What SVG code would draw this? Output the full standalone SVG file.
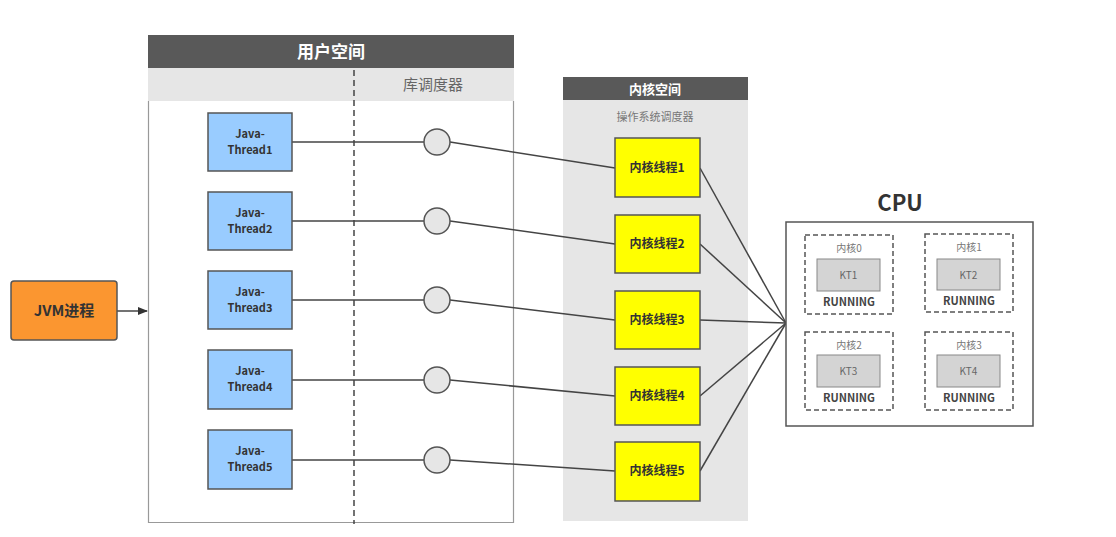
<svg xmlns="http://www.w3.org/2000/svg" width="1116" height="537" viewBox="0 0 1116 537">
<defs>
<style>
.hdr{fill:#595959}
.sub{fill:#e6e6e6}
.t{font-family:"Noto Sans CJK SC","Open Sans",sans-serif}
.jt{fill:#99ccff;stroke:#555;stroke-width:1.5}
.kt{fill:#ffff00;stroke:#555;stroke-width:1.5}
.circ{fill:#e6e6e6;stroke:#555;stroke-width:1.5}
.ln{stroke:#444;stroke-width:1.5;fill:none}
.core{fill:none;stroke:#555;stroke-width:1.5;stroke-dasharray:5,3}
.ktb{fill:#d4d4d4;stroke:#888;stroke-width:1}
.jtx{font-size:11px;font-weight:bold;fill:#333;text-anchor:middle}
.ktx{font-size:12px;font-weight:bold;fill:#333;text-anchor:middle}
.cl{font-size:10px;fill:#777;text-anchor:middle}
.kl{font-size:10px;fill:#666;text-anchor:middle}
.run{font-size:11px;font-weight:bold;fill:#444;text-anchor:middle}
</style>
<marker id="arr" markerWidth="10" markerHeight="8" refX="9" refY="4" orient="auto" markerUnits="userSpaceOnUse">
<path d="M0,0 L10,4 L0,8 z" fill="#333"/>
</marker>
</defs>
<rect width="1116" height="537" fill="#fff"/>

<g id="user-space">
<rect x="148" y="35" width="366" height="33" class="hdr"/>
<text x="331" y="58" class="t" font-size="17" font-weight="bold" fill="#fff" text-anchor="middle">用户空间</text>
<rect x="148" y="68" width="366" height="33" class="sub"/>
<text x="433" y="90" class="t" font-size="15" fill="#666" text-anchor="middle">库调度器</text>
<path d="M148.5,101 V522.5 H513.5 V101" fill="none" stroke="#999" stroke-width="1.2"/>
<line x1="354" y1="70" x2="354" y2="524" stroke="#444" stroke-width="1.5" stroke-dasharray="6,4"/>
</g>

<g id="kernel-space">
<rect x="563" y="100" width="185" height="421" class="sub"/>
<rect x="563" y="77" width="185" height="23" class="hdr"/>
<text x="655" y="94" class="t" font-size="13" font-weight="bold" fill="#fff" text-anchor="middle">内核空间</text>
<text x="655" y="121" class="t" font-size="11" fill="#777" text-anchor="middle">操作系统调度器</text>
</g>

<g id="connectors">
<line x1="117" y1="311" x2="147" y2="311" class="ln" marker-end="url(#arr)"/>
<line x1="292" y1="142" x2="424" y2="142" class="ln"/>
<line x1="292" y1="221" x2="424" y2="221" class="ln"/>
<line x1="292" y1="300" x2="424" y2="300" class="ln"/>
<line x1="292" y1="380" x2="424" y2="380" class="ln"/>
<line x1="292" y1="460" x2="424" y2="460" class="ln"/>
<line x1="450" y1="142" x2="615" y2="168" class="ln"/>
<line x1="450" y1="221" x2="615" y2="244" class="ln"/>
<line x1="450" y1="300" x2="615" y2="320" class="ln"/>
<line x1="450" y1="380" x2="615" y2="396" class="ln"/>
<line x1="450" y1="460" x2="615" y2="471" class="ln"/>
<line x1="700" y1="168" x2="786" y2="323" class="ln"/>
<line x1="700" y1="244" x2="786" y2="323" class="ln"/>
<line x1="700" y1="320" x2="786" y2="323" class="ln"/>
<line x1="700" y1="396" x2="786" y2="323" class="ln"/>
<line x1="700" y1="471" x2="786" y2="323" class="ln"/>
</g>

<g id="jvm">
<rect x="11" y="281" width="106" height="59" rx="3" fill="#fb9630" stroke="#555" stroke-width="1.5"/>
<text x="64" y="316" class="t" font-size="15" font-weight="bold" fill="#333" text-anchor="middle">JVM进程</text>
</g>

<g id="java-thread1"><rect x="208" y="113" width="84" height="58" class="jt"/><text x="250" y="138" class="t jtx">Java-</text><text x="250" y="154" class="t jtx">Thread1</text></g>
<g id="java-thread2"><rect x="208" y="192" width="84" height="58" class="jt"/><text x="250" y="217" class="t jtx">Java-</text><text x="250" y="233" class="t jtx">Thread2</text></g>
<g id="java-thread3"><rect x="208" y="271" width="84" height="58" class="jt"/><text x="250" y="296" class="t jtx">Java-</text><text x="250" y="312" class="t jtx">Thread3</text></g>
<g id="java-thread4"><rect x="208" y="350" width="84" height="59" class="jt"/><text x="250" y="375" class="t jtx">Java-</text><text x="250" y="391" class="t jtx">Thread4</text></g>
<g id="java-thread5"><rect x="208" y="430" width="84" height="59" class="jt"/><text x="250" y="455" class="t jtx">Java-</text><text x="250" y="471" class="t jtx">Thread5</text></g>

<g id="sched1"><circle cx="437" cy="142" r="13" class="circ"/></g>
<g id="sched2"><circle cx="437" cy="221" r="13" class="circ"/></g>
<g id="sched3"><circle cx="437" cy="300" r="13" class="circ"/></g>
<g id="sched4"><circle cx="437" cy="380" r="13" class="circ"/></g>
<g id="sched5"><circle cx="437" cy="460" r="13" class="circ"/></g>

<g id="kthread1"><rect x="615" y="138" width="85" height="59" class="kt"/><text x="657" y="172" class="t ktx">内核线程1</text></g>
<g id="kthread2"><rect x="615" y="215" width="85" height="58" class="kt"/><text x="657" y="248" class="t ktx">内核线程2</text></g>
<g id="kthread3"><rect x="615" y="291" width="85" height="58" class="kt"/><text x="657" y="324" class="t ktx">内核线程3</text></g>
<g id="kthread4"><rect x="615" y="367" width="85" height="58" class="kt"/><text x="657" y="400" class="t ktx">内核线程4</text></g>
<g id="kthread5"><rect x="615" y="442" width="85" height="59" class="kt"/><text x="657" y="475" class="t ktx">内核线程5</text></g>

<g id="cpu">
<text x="900" y="211" class="t" font-size="22" font-weight="bold" fill="#333" text-anchor="middle">CPU</text>
<rect x="786" y="222" width="247" height="204" fill="#fff" stroke="#555" stroke-width="1.5"/>
</g>

<g id="core0"><rect x="805" y="235" width="88" height="79" class="core"/><text x="849" y="252" class="t cl">内核0</text><rect x="817" y="259" width="63" height="32" class="ktb"/><text x="848.5" y="279" class="t kl">KT1</text><text x="849" y="306" class="t run">RUNNING</text></g>
<g id="core1"><rect x="925" y="234" width="88" height="78" class="core"/><text x="969" y="251" class="t cl">内核1</text><rect x="937" y="259" width="63" height="31" class="ktb"/><text x="968.5" y="279" class="t kl">KT2</text><text x="969" y="305" class="t run">RUNNING</text></g>
<g id="core2"><rect x="805" y="332" width="88" height="78" class="core"/><text x="849" y="349" class="t cl">内核2</text><rect x="817" y="355" width="63" height="32" class="ktb"/><text x="848.5" y="375" class="t kl">KT3</text><text x="849" y="402" class="t run">RUNNING</text></g>
<g id="core3"><rect x="925" y="332" width="88" height="78" class="core"/><text x="969" y="349" class="t cl">内核3</text><rect x="937" y="355" width="63" height="32" class="ktb"/><text x="968.5" y="375" class="t kl">KT4</text><text x="969" y="402" class="t run">RUNNING</text></g>
</svg>
